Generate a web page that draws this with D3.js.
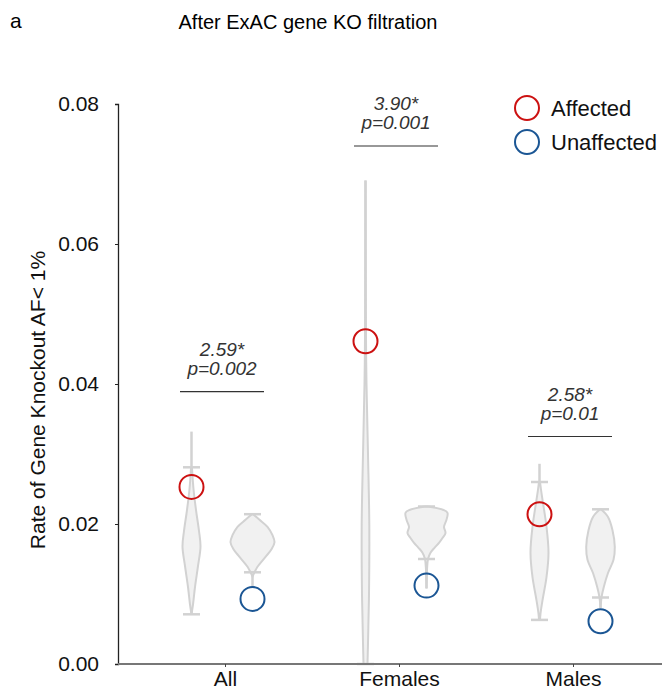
<!DOCTYPE html>
<html>
<head>
<meta charset="utf-8">
<script src="https://cdn.jsdelivr.net/npm/d3@7"></script>
<style>
  body { margin: 0; background: #fff; }
  text { font-family: "Liberation Sans", Arial, Helvetica, sans-serif; }
</style>
</head>
<body>
<svg width="662" height="694"></svg>
<script>
const svg = d3.select('svg');

// groups and series
const groups = ['All', 'Females', 'Males'];
const series = ['Affected', 'Unaffected'];
const seriesColors = ['#cc1111', '#1b5694'];

// observed rate (circles)
const affectedRate = [0.0253, 0.0461, 0.0214];
const unaffectedRate = [0.0093, 0.0112, 0.0061];

// whisker ends and caps, per group [affected, unaffected]
const whiskerMax = [[0.0332, 0.0214], [0.0691, 0.0225], [0.0286, 0.0221]];
const whiskerMin = [[0.0071, 0.0110], [0.0000, 0.0108], [0.0063, 0.0080]];
const capHigh = [[0.0281, 0.0214], [null, 0.0225], [0.0260, 0.0221]];
const capLow = [[0.0071, 0.0131], [0.0000, 0.0150], [0.0063, 0.0095]];

// violin density profiles [value, density]
const violins = [
  [
    [[0.0071, 0], [0.0085, 1.5], [0.011, 3.5], [0.014, 6.5], [0.0168, 9], [0.019, 7.5], [0.022, 4.5], [0.025, 2], [0.028, 0.5]],
    [[0.0125, 0], [0.0131, 2], [0.0139, 5], [0.0153, 13], [0.0164, 19], [0.0174, 22], [0.0184, 20], [0.0196, 15], [0.0206, 7], [0.0214, 0.5]]
  ],
  [
    [[0.0, 2], [0.003, 2.5], [0.01, 3.5], [0.02, 3.8], [0.03, 2.5], [0.04, 1], [0.05, 0.3], [0.069, 0]],
    [[0.0108, 0], [0.0134, 0.5], [0.015, 1.5], [0.0159, 4], [0.0166, 8], [0.0173, 12.5], [0.018, 16], [0.0187, 19], [0.0196, 17.5], [0.0206, 20], [0.0216, 21], [0.022, 17], [0.0225, 2]]
  ],
  [
    [[0.0063, 0.5], [0.0072, 1], [0.0091, 3], [0.0124, 7], [0.0159, 9], [0.0196, 7], [0.0244, 2], [0.026, 0.5]],
    [[0.008, 0], [0.0095, 1], [0.011, 3.3], [0.013, 7.5], [0.0149, 13], [0.0167, 14.3], [0.0191, 12], [0.021, 7.5], [0.0221, 0.5]]
  ]
];

// annotations
const foldText = ['2.59*', '3.90*', '2.58*'];
const pText = ['p=0.002', 'p=0.001', 'p=0.01'];
const barLevel = [0.0389, 0.0740, 0.0325];

const y = d3.scaleLinear().domain([0, 0.08]).range([664, 104]);
const x = d3.scalePoint().domain(groups).range([222, 570]);
const xs = d3.scalePoint().domain(series).range([-30.5, 30.5]);
const w = d3.scaleLinear().domain([0, 22]).range([0, 22]);
const color = d3.scaleOrdinal().domain(series).range(seriesColors);

const grey = '#d2d2d2';

// title
svg.append('text').attr('x', 10).attr('y', 28).attr('font-size', 21).text('a');
svg.append('text').attr('x', 308).attr('y', 29).attr('text-anchor', 'middle')
  .attr('font-size', 20).text('After ExAC gene KO filtration');

// y axis
const yAxis = svg.append('g').attr('transform', 'translate(118,0)')
  .call(d3.axisLeft(y).tickValues([0, 0.02, 0.04, 0.06, 0.08]).tickFormat(d3.format('.2f'))
    .tickSize(3).tickPadding(16));
yAxis.select('.domain').attr('stroke', '#222').attr('stroke-width', 1.3);
yAxis.selectAll('.tick line').attr('stroke', '#222');
yAxis.selectAll('.tick text').attr('font-size', 21).attr('fill', '#111')
  .style('font-family', '"Liberation Sans", Arial, sans-serif');

svg.append('text')
  .attr('transform', 'translate(45,400) rotate(-90)')
  .attr('text-anchor', 'middle').attr('font-size', 21).attr('fill', '#111')
  .text('Rate of Gene Knockout AF< 1%');

// violins
const area = d3.area()
  .curve(d3.curveCatmullRom)
  .y(d => y(d[0]));

groups.forEach((g, gi) => {
  series.forEach((s, si) => {
    const cx = x(g) + xs(s);
    const g2 = svg.append('g');
    g2.append('line')
      .attr('x1', cx).attr('x2', cx)
      .attr('y1', y(whiskerMin[gi][si])).attr('y2', y(whiskerMax[gi][si]))
      .attr('stroke', grey).attr('stroke-width', 2.5);
    g2.append('path')
      .datum(violins[gi][si])
      .attr('d', area.x0(d => cx - w(d[1])).x1(d => cx + w(d[1])))
      .attr('fill', '#f1f1f1').attr('stroke', grey).attr('stroke-width', 2);
    [capHigh[gi][si], capLow[gi][si]].forEach(c => {
      if (c === null) return;
      g2.append('line')
        .attr('x1', cx - 8.5).attr('x2', cx + 8.5)
        .attr('y1', y(c)).attr('y2', y(c))
        .attr('stroke', grey).attr('stroke-width', 2.5);
    });
  });
});

// x axis
svg.append('line').attr('x1', 118).attr('x2', 662).attr('y1', 664).attr('y2', 664)
  .attr('stroke', '#777').attr('stroke-width', 2);
const xAxis = svg.append('g').attr('transform', 'translate(3,664)')
  .call(d3.axisBottom(x).tickSize(3).tickPadding(4));
xAxis.select('.domain').remove();
xAxis.selectAll('.tick line').attr('stroke', '#444');
xAxis.selectAll('.tick text').attr('font-size', 21).attr('fill', '#111')
  .style('font-family', '"Liberation Sans", Arial, sans-serif');

// observed points
const pts = [];
groups.forEach((g, gi) => {
  pts.push({ g: g, s: 'Affected', v: affectedRate[gi] });
  pts.push({ g: g, s: 'Unaffected', v: unaffectedRate[gi] });
});
svg.selectAll('circle.pt').data(pts).enter().append('circle')
  .attr('class', 'pt')
  .attr('cx', d => x(d.g) + xs(d.s))
  .attr('cy', d => y(d.v))
  .attr('r', 12)
  .attr('fill', 'none')
  .attr('stroke', d => color(d.s))
  .attr('stroke-width', 2);

// significance annotations
groups.forEach((g, gi) => {
  const yy = y(barLevel[gi]);
  svg.append('line').attr('x1', x(g) - 42).attr('x2', x(g) + 42)
    .attr('y1', yy).attr('y2', yy).attr('stroke', '#333').attr('stroke-width', 1.2);
  svg.append('text').attr('x', x(g)).attr('y', yy - 36).attr('text-anchor', 'middle')
    .attr('font-size', 19).attr('font-style', 'italic').attr('fill', '#333').text(foldText[gi]);
  svg.append('text').attr('x', x(g)).attr('y', yy - 17).attr('text-anchor', 'middle')
    .attr('font-size', 19).attr('font-style', 'italic').attr('fill', '#333').text(pText[gi]);
});

// legend
const legend = svg.append('g');
series.forEach((s, i) => {
  legend.append('circle').attr('cx', 527).attr('cy', 108 + i * 34).attr('r', 12)
    .attr('fill', 'none').attr('stroke', color(s)).attr('stroke-width', 2);
  legend.append('text').attr('x', 551).attr('y', 116 + i * 34)
    .attr('font-size', 22).attr('fill', '#111').text(s);
});
</script>
</body>
</html>
